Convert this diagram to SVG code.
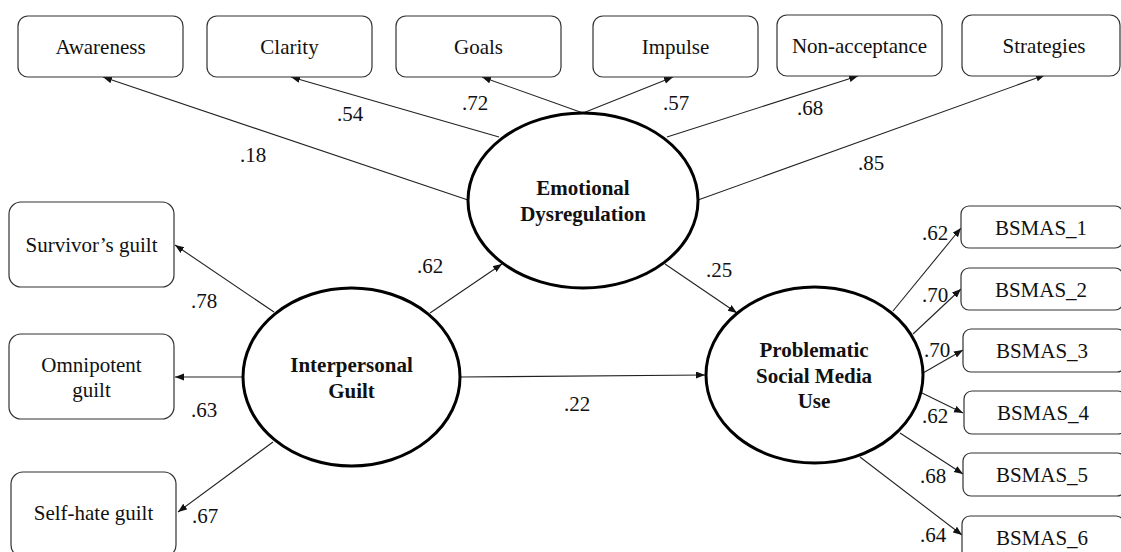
<svg xmlns="http://www.w3.org/2000/svg" width="1121" height="552" viewBox="0 0 1121 552">
<defs>
<marker id="ah" markerUnits="userSpaceOnUse" markerWidth="10" markerHeight="8" refX="9" refY="3.5" orient="auto">
<path d="M0,0 L9,3.5 L0,7 z" fill="#111"/>
</marker>
<style>
.box{fill:#fff;stroke:#333;stroke-width:1.2}
.lat{fill:#fff;stroke:#000;stroke-width:3}
.t{font-size:21px;fill:#111;text-anchor:middle}
.b{font-weight:bold}
.c line{stroke:#222;stroke-width:1.1;marker-end:url(#ah)}
</style>
</defs>
<rect width="1121" height="552" fill="#fff"/>
<g font-family="'Liberation Serif', Tinos, 'Times New Roman', Times, 'DejaVu Serif', serif">
<g class="c" id="connectors">
<line x1="468" y1="200" x2="103" y2="77"/>
<line x1="499" y1="137" x2="291" y2="77"/>
<line x1="583" y1="113" x2="482" y2="77"/>
<line x1="583" y1="113" x2="673" y2="77"/>
<line x1="667" y1="137" x2="858" y2="76"/>
<line x1="698" y1="200" x2="1045" y2="75"/>
<line x1="274" y1="312" x2="175" y2="245"/>
<line x1="243" y1="377" x2="175" y2="377"/>
<line x1="273" y1="442" x2="178" y2="512"/>
<line x1="430" y1="313" x2="502" y2="264"/>
<line x1="665" y1="264" x2="737" y2="313"/>
<line x1="460" y1="377" x2="705" y2="375"/>
<line x1="893" y1="311" x2="961" y2="228"/>
<line x1="913" y1="334" x2="961" y2="289"/>
<line x1="923" y1="373" x2="963" y2="350"/>
<line x1="922" y1="393" x2="963" y2="413"/>
<line x1="900" y1="433" x2="963" y2="474"/>
<line x1="860" y1="457" x2="962" y2="535"/>
</g>

<g id="labels" class="t">
<text x="253" y="162">.18</text>
<text x="350" y="121">.54</text>
<text x="475" y="110">.72</text>
<text x="676" y="110">.57</text>
<text x="810" y="115">.68</text>
<text x="871" y="170">.85</text>
<text x="204" y="308">.78</text>
<text x="204" y="417">.63</text>
<text x="205" y="523">.67</text>
<text x="430" y="273">.62</text>
<text x="719" y="277">.25</text>
<text x="577" y="411">.22</text>
<text x="935" y="240">.62</text>
<text x="935" y="302">.70</text>
<text x="937" y="357">.70</text>
<text x="935" y="423">.62</text>
<text x="933" y="483">.68</text>
<text x="933" y="542">.64</text>
</g>

<g id="awareness"><rect class="box" x="18" y="16" width="165" height="61" rx="10"/><text class="t" x="100.5" y="54">Awareness</text></g>
<g id="clarity"><rect class="box" x="207" y="16" width="165" height="61" rx="10"/><text class="t" x="289.5" y="54">Clarity</text></g>
<g id="goals"><rect class="box" x="396" y="16" width="165" height="61" rx="10"/><text class="t" x="478.5" y="54">Goals</text></g>
<g id="impulse"><rect class="box" x="593" y="16" width="165" height="61" rx="10"/><text class="t" x="675.5" y="54">Impulse</text></g>
<g id="nonacceptance"><rect class="box" x="777" y="15" width="165" height="61" rx="10"/><text class="t" x="859.5" y="53">Non-acceptance</text></g>
<g id="strategies"><rect class="box" x="962" y="15" width="158" height="61" rx="10"/><text class="t" x="1044" y="53">Strategies</text></g>

<g id="survivor"><rect class="box" x="9" y="202" width="165" height="85" rx="12"/><text class="t" x="91.5" y="252">Survivor’s guilt</text></g>
<g id="omnipotent"><rect class="box" x="9" y="334" width="165" height="85" rx="12"/><text class="t" x="91.5" y="372">Omnipotent</text><text class="t" x="91.5" y="397">guilt</text></g>
<g id="selfhate"><rect class="box" x="11" y="472" width="165" height="85" rx="12"/><text class="t" x="93.5" y="520">Self-hate guilt</text></g>

<g id="bsmas1"><rect class="box" x="961" y="206" width="162" height="42" rx="8"/><text class="t" x="1041" y="235">BSMAS_1</text></g>
<g id="bsmas2"><rect class="box" x="961" y="268" width="162" height="42" rx="8"/><text class="t" x="1041" y="297">BSMAS_2</text></g>
<g id="bsmas3"><rect class="box" x="963" y="329" width="162" height="43" rx="8"/><text class="t" x="1042" y="358">BSMAS_3</text></g>
<g id="bsmas4"><rect class="box" x="964" y="391" width="162" height="43" rx="8"/><text class="t" x="1043" y="420">BSMAS_4</text></g>
<g id="bsmas5"><rect class="box" x="963" y="453" width="162" height="43" rx="8"/><text class="t" x="1042" y="482">BSMAS_5</text></g>
<g id="bsmas6"><rect class="box" x="962" y="516" width="162" height="43" rx="8"/><text class="t" x="1042" y="545">BSMAS_6</text></g>

<g id="ed"><ellipse class="lat" cx="583" cy="200.5" rx="115" ry="87.5"/><text class="t b" x="583" y="195">Emotional</text><text class="t b" x="583" y="221">Dysregulation</text></g>
<g id="ig"><ellipse class="lat" cx="351.5" cy="377" rx="108.5" ry="89"/><text class="t b" x="351.5" y="372">Interpersonal</text><text class="t b" x="351.5" y="398">Guilt</text></g>
<g id="psmu"><ellipse class="lat" cx="814.5" cy="375" rx="108.5" ry="88"/><text class="t b" x="814" y="357">Problematic</text><text class="t b" x="814" y="383">Social Media</text><text class="t b" x="814" y="408">Use</text></g>
</g>
</svg>
